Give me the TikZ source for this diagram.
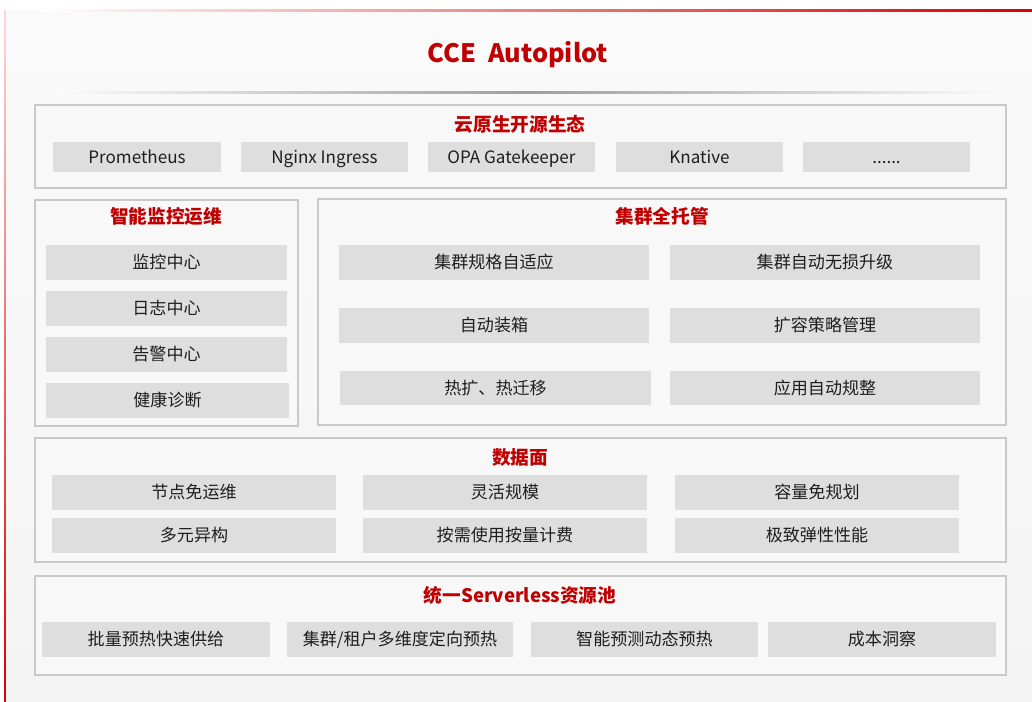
\documentclass[tikz,border=0pt]{standalone}
\usepackage{fontspec}
\setmainfont{Noto Sans CJK SC}
\definecolor{bg}{HTML}{F6F6F6}
\definecolor{bgtop}{HTML}{FAFAFA}
\definecolor{bgbot}{HTML}{F4F4F4}
\definecolor{boxfill}{HTML}{F8F8F8}
\definecolor{boxline}{HTML}{C9C9C9}
\definecolor{itemfill}{HTML}{DEDEDE}
\definecolor{ttl}{HTML}{C00000}
\definecolor{txt}{HTML}{1E1E1E}
\tikzset{
  panel/.style={draw=boxline, line width=1.3pt, fill=boxfill, inner sep=0pt},
  itembox/.style={fill=itemfill, draw=none, inner sep=0pt, text=txt, text height=10pt, text depth=0.8pt, font=\fontsize{12.8}{14}\selectfont},
  paneltitle/.style={text=ttl, font=\fontsize{14}{16}\selectfont\bfseries, inner sep=0pt},
}
\newcommand\ibox[6]{\node[itembox, minimum width={(#4-#2)*0.75pt}, minimum height={(#5-#3)*0.75pt}] (#1) at ({(#2+#4)/2},{(#3+#5)/2}) {#6};}
\newcommand\pbox[5]{\node[panel, minimum width={(#4-#2)*0.75pt}, minimum height={(#5-#3)*0.75pt}] (#1) at ({(#2+#4)/2},{(#3+#5)/2}) {};}
\begin{document}
\begin{tikzpicture}[x=0.75pt,y=-0.75pt]
\useasboundingbox (0,0) rectangle (1032,701);
\fill[white] (0,0) rectangle (1032,701);
\shade[top color=bgtop, bottom color=bgbot] (5,10) rectangle (1032,701);
% red frame lines
\shade[left color=white, right color=red!85!black] (40,9.5) rectangle (1032,11.5);
\shade[top color=red!15, bottom color=red!85!black] (4.2,10) rectangle (5.8,701);
% title
\node[text=ttl, font=\fontsize{19}{22}\selectfont\bfseries, inner sep=0pt] (title) at (518,55) {CCE\ \ Autopilot};
\shade[left color=bgtop, right color=bgtop, middle color=black!38] (60,91) rectangle (1000,93);

% panel 1
\pbox{p1}{35}{105}{1006}{188}
\node[paneltitle] (t1) at (520,124) {云原生开源生态};
\ibox{a1}{53}{142}{221}{172}{Prometheus}
\ibox{a2}{241}{142}{408}{172}{Nginx Ingress}
\ibox{a3}{428}{142}{595}{172}{OPA Gatekeeper}
\ibox{a4}{616}{142}{783}{172}{Knative}
\ibox{a5}{803}{142}{970}{172}{......}

% panel 2
\pbox{p2}{35}{200}{298}{426}
\node[paneltitle] (t2) at (166,216) {智能监控运维};
\ibox{b1}{46}{245}{287}{280}{监控中心}
\ibox{b2}{46}{291}{287}{326}{日志中心}
\ibox{b3}{46}{337}{287}{372}{告警中心}
\ibox{b4}{46}{383}{289}{418}{健康诊断}

% panel 3
\pbox{p3}{318}{199}{1006}{425}
\node[paneltitle] (t3) at (662,216) {集群全托管};
\ibox{c1}{339}{245}{649}{280}{集群规格自适应}
\ibox{c2}{670}{245}{980}{280}{集群自动无损升级}
\ibox{c3}{339}{308}{649}{343}{自动装箱}
\ibox{c4}{670}{308}{980}{343}{扩容策略管理}
\ibox{c5}{340}{371}{651}{405}{热扩、热迁移}
\ibox{c6}{670}{371}{980}{405}{应用自动规整}

% panel 4
\pbox{p4}{35}{438}{1006}{562}
\node[paneltitle] (t4) at (520,457) {数据面};
\ibox{d1}{52}{475}{336}{510}{节点免运维}
\ibox{d2}{363}{475}{647}{510}{灵活规模}
\ibox{d3}{675}{475}{959}{510}{容量免规划}
\ibox{d4}{52}{518}{336}{553}{多元异构}
\ibox{d5}{363}{518}{647}{553}{按需使用按量计费}
\ibox{d6}{675}{518}{959}{553}{极致弹性性能}

% panel 5
\pbox{p5}{35}{576}{1006}{675}
\node[paneltitle] (t5) at (520,595) {统一Serverless资源池};
\ibox{e1}{42}{622}{270}{657}{批量预热快速供给}
\ibox{e2}{287}{622}{513}{657}{集群/租户多维度定向预热}
\ibox{e3}{531}{622}{758}{657}{智能预测动态预热}
\ibox{e4}{768}{622}{996}{657}{成本洞察}
\end{tikzpicture}
\end{document}
